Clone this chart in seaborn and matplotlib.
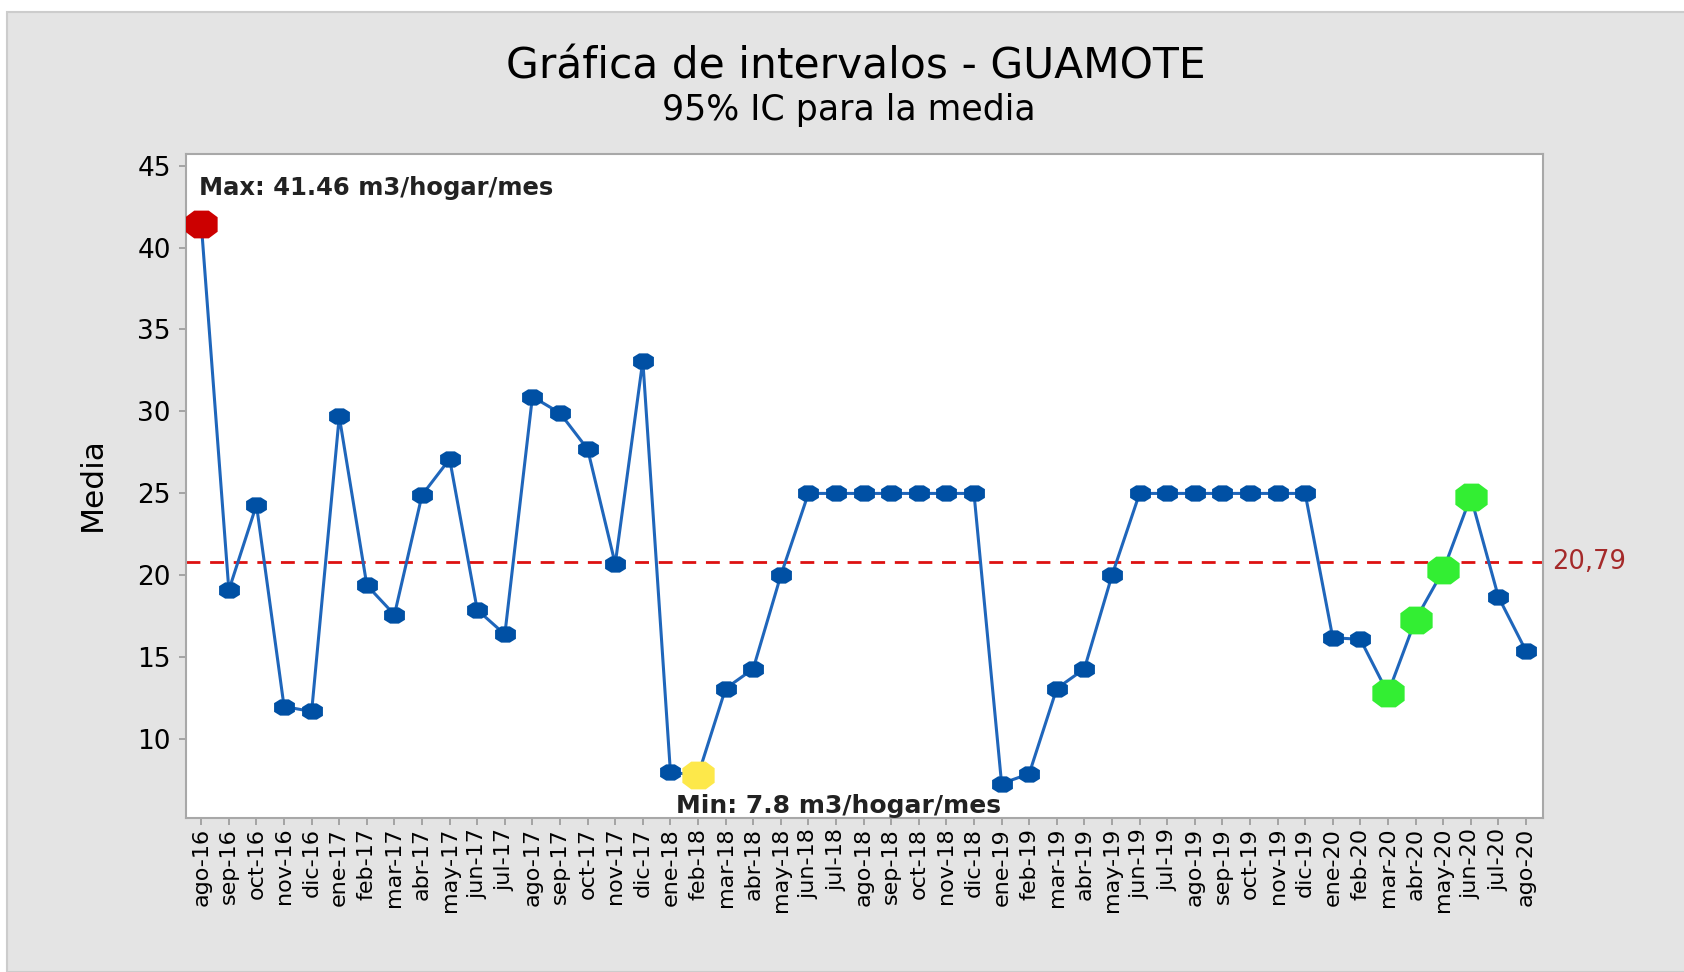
import pandas as pd
import matplotlib
matplotlib.use("Agg")
import matplotlib.pyplot as plt
import matplotlib.transforms as mtransforms
from matplotlib.patches import Rectangle
import seaborn as sns

# data
meses = ["ago-16", "sep-16", "oct-16", "nov-16", "dic-16",
         "ene-17", "feb-17", "mar-17", "abr-17", "may-17", "jun-17", "jul-17",
         "ago-17", "sep-17", "oct-17", "nov-17", "dic-17",
         "ene-18", "feb-18", "mar-18", "abr-18", "may-18", "jun-18", "jul-18",
         "ago-18", "sep-18", "oct-18", "nov-18", "dic-18",
         "ene-19", "feb-19", "mar-19", "abr-19", "may-19", "jun-19", "jul-19",
         "ago-19", "sep-19", "oct-19", "nov-19", "dic-19",
         "ene-20", "feb-20", "mar-20", "abr-20", "may-20", "jun-20", "jul-20", "ago-20"]
media = [41.46, 19.1, 24.3, 12.0, 11.7,
         29.7, 19.4, 17.6, 24.9, 27.1, 17.9, 16.4,
         30.9, 29.9, 27.7, 20.7, 33.1,
         8.0, 7.8, 13.1, 14.3, 20.0, 25.0, 25.0,
         25.0, 25.0, 25.0, 25.0, 25.0,
         7.3, 7.9, 13.1, 14.3, 20.0, 25.0, 25.0,
         25.0, 25.0, 25.0, 25.0, 25.0,
         16.2, 16.1, 12.8, 17.3, 20.3, 24.8, 18.7, 15.4]
promedio = 20.79
max_mes = "ago-16"
min_mes = "feb-18"
verdes = ["mar-20", "abr-20", "may-20", "jun-20"]

df = pd.DataFrame({"mes": meses, "media": media})
df["i"] = range(len(df))

plt.rcParams["font.family"] = ["DejaVu Sans"]

fig = plt.figure(figsize=(16.84, 9.72), dpi=100, facecolor="white")
fig.patches.append(Rectangle((7 / 1684, 0), 1, 1 - 12 / 972, transform=fig.transFigure,
                             facecolor="#e4e4e4", edgecolor="#cccccc", lw=1.5, zorder=-10))
ax = fig.add_axes([0.1105, 0.1584, 0.8058, 0.6831])
ax.set_facecolor("white")

# wide octagons like the Minitab symbols
octo = [(-1.0, -0.42), (-0.42, -0.78), (0.42, -0.78), (1.0, -0.42),
        (1.0, 0.42), (0.42, 0.78), (-0.42, 0.78), (-1.0, 0.42), (-1.0, -0.42)]
octo_big = [(-1.0, -0.45), (-0.45, -0.86), (0.45, -0.86), (1.0, -0.45),
            (1.0, 0.45), (0.45, 0.86), (-0.45, 0.86), (-1.0, 0.45), (-1.0, -0.45)]

ax.axhline(promedio, color="#dd1111", lw=2, ls=(0, (5, 3.5)), zorder=1)
sns.lineplot(data=df, x="i", y="media", ax=ax, color="#1f66bb", lw=2.2, zorder=2,
             marker=octo, markersize=15, markerfacecolor="#0050a4",
             markeredgecolor="#0050a4", markeredgewidth=0)

big = dict(marker=octo_big, s=540, linewidth=0, zorder=3, legend=False)
sns.scatterplot(data=df[df["mes"] == max_mes], x="i", y="media", ax=ax, color="#cc0000", **big)
sns.scatterplot(data=df[df["mes"] == min_mes], x="i", y="media", ax=ax, color="#fde84a", **big)
sns.scatterplot(data=df[df["mes"].isin(verdes)], x="i", y="media", ax=ax, color="#33ee33", **big)

ax.text(-0.1, 43.6, f"Max: {max(media)} m3/hogar/mes", fontsize=17.5, fontweight="bold",
        ha="left", va="center", color="#222222")
ax.text(17.2, 5.95, f"Min: {min(media[:20])} m3/hogar/mes", fontsize=18, fontweight="bold",
        ha="left", va="center", color="#222222")

trans = mtransforms.blended_transform_factory(ax.transAxes, ax.transData)
ax.text(1.007, promedio, f"{promedio:.2f}".replace(".", ","), transform=trans,
        color="#a52a2a", fontsize=18.5, ha="left", va="center")

ax.set_xlim(-0.55, len(meses) - 1 + 0.62)
ax.set_ylim(5.2, 45.7)
ax.set_yticks(range(10, 46, 5))
ax.set_xticks(df["i"])
ax.set_xticklabels(meses, rotation=90, fontsize=16)
ax.tick_params(axis="y", labelsize=19, length=5, color="#999999", width=1.2, pad=6)
ax.tick_params(axis="x", length=5, color="#999999", width=1.2, pad=2)
for s in ax.spines.values():
    s.set_color("#a8a8a8")
    s.set_linewidth(1.5)
ax.set_xlabel("")
ax.set_ylabel("")

fig.text(0.0546, 0.502, "Media", rotation=90, fontsize=22.5, ha="center", va="center")
fig.text(0.508, 0.932, "Gráfica de intervalos - GUAMOTE", fontsize=30.5, ha="center", va="center")
fig.text(0.504, 0.887, "95% IC para la media", fontsize=25, ha="center", va="center")

fig.savefig("out.png", dpi=100)
